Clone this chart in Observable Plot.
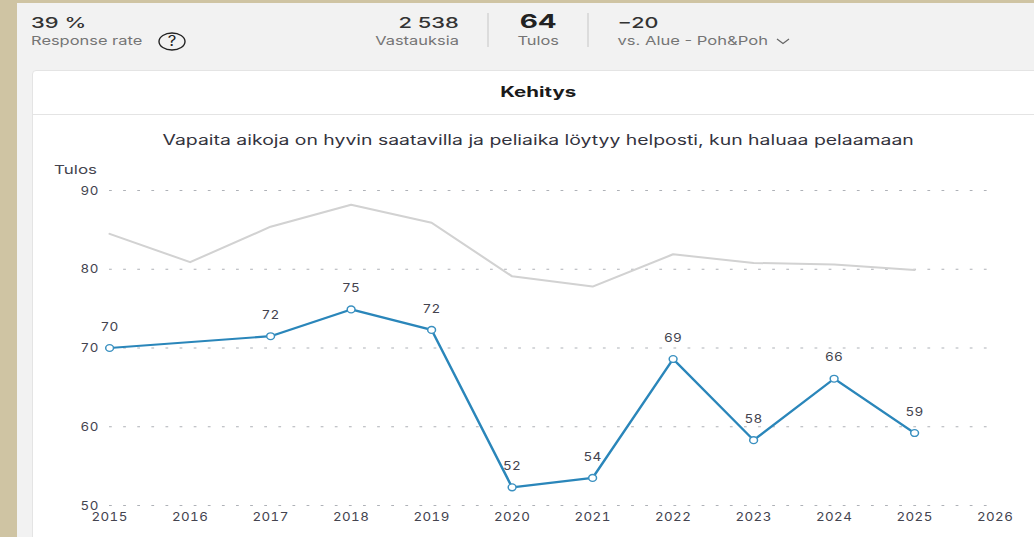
<!DOCTYPE html>
<html>
<head>
<meta charset="utf-8">
<script src="https://cdn.jsdelivr.net/npm/d3@7"></script>
<script src="https://cdn.jsdelivr.net/npm/@observablehq/plot@0.6"></script>
<style>
html,body{margin:0;padding:0;background:#cfc4a3;overflow:hidden;width:1034px;height:537px;font-family:Inter,sans-serif;}
#panel{position:absolute;left:17px;top:3px;right:0;bottom:0;background:#f2f2f2;}
#card{position:absolute;left:32px;top:70px;width:1010px;height:480px;background:#fff;border:1px solid #e4e4e4;border-radius:4px;box-sizing:border-box;}
#rule{position:absolute;left:33px;right:0;top:114px;height:1px;background:#e4e4e4;}
.sep{position:absolute;width:2px;top:13px;height:34px;background:#dcdcdc;}
#stage{position:absolute;left:0;top:0;width:899.13px;height:537px;transform:scaleX(1.15);transform-origin:0 0;}
.t{position:absolute;white-space:nowrap;line-height:1;}
#chart{position:absolute;left:0;top:155px;}
#chart svg{display:block;background:transparent;overflow:visible;}
#q{position:absolute;left:158px;top:32px;width:28px;height:19px;}
#chev{position:absolute;left:776px;top:38px;width:14px;height:7px;}
</style>
</head>
<body>
<div id="panel"></div>
<div id="card"></div>
<div id="rule"></div>
<div class="sep" style="left:487px"></div>
<div class="sep" style="left:587px"></div>
<svg id="q" viewBox="0 0 28 19"><ellipse cx="14" cy="9.5" rx="13" ry="8.5" fill="none" stroke="#222" stroke-width="1.4"/><text x="14" y="14.5" text-anchor="middle" font-family="Inter" font-size="14" fill="#222" transform="translate(14 0) scale(1.2 1) translate(-14 0)">?</text></svg>
<svg id="chev" viewBox="0 0 14 7"><path d="M1 1 L7 5.5 L13 1" fill="none" stroke="#666" stroke-width="1.2"/></svg>
<div id="stage"><div id="chart"></div></div>
<script>
const years = [2015, 2017, 2018, 2019, 2020, 2021, 2022, 2023, 2024, 2025];
const scores = [70, 71.5, 74.9, 72.3, 52.3, 53.5, 68.6, 58.3, 66.1, 59.2];
const labels = [70, 72, 75, 72, 52, 54, 69, 58, 66, 59];
const areaYears = [2015, 2016, 2017, 2018, 2019, 2020, 2021, 2022, 2023, 2024, 2025];
const areaScores = [84.5, 80.9, 85.4, 88.2, 85.9, 79.1, 77.8, 81.9, 80.8, 80.6, 79.9];
const yTicks = [50, 60, 70, 80, 90];
const xTicks = [2015, 2016, 2017, 2018, 2019, 2020, 2021, 2022, 2023, 2024, 2025, 2026];

const SX = 1.15;
const stage = document.getElementById("stage");
function put(x, y, text, size, color, weight, anchor, stretch) {
  const d = document.createElement("div");
  d.className = "t";
  d.textContent = text;
  d.style.left = (x / SX) + "px";
  d.style.top = y + "px";
  d.style.fontSize = size + "px";
  d.style.color = color;
  d.style.fontWeight = weight || 400;
  const ax = anchor === "end" ? "-100%" : anchor === "middle" ? "-50%" : "0";
  d.style.transformOrigin = anchor === "end" ? "100% 50%" : anchor === "middle" ? "50% 50%" : "0 50%";
  d.style.transform = "translate(" + ax + ",-50%) scaleX(" + (stretch || 1) + ")";
  stage.appendChild(d);
}
put(31.5, 22, "39 %", 15, "#333", 500, "start", 1.27);
put(31.5, 41, "Response rate", 12, "#757575", 400, "start", 1.19);
put(459, 22, "2 538", 15, "#333", 500, "end", 1.27);
put(459, 41, "Vastauksia", 12, "#757575", 400, "end", 1.19);
put(538, 21, "64", 19, "#222", 700, "middle", 1.28);
put(538, 41, "Tulos", 12, "#757575", 400, "middle", 1.19);
put(618, 22, "−20", 15, "#333", 500, "start", 1.25);
put(618, 41, "vs. Alue - Poh&Poh", 12, "#757575", 400, "start", 1.2);
put(538, 92, "Kehitys", 14, "#1a1a1a", 700, "middle", 1.27);
put(538.5, 139.5, "Vapaita aikoja on hyvin saatavilla ja peliaika löytyy helposti, kun haluaa pelaamaan", 14, "#33333d", 400, "middle", 1.205);
put(54, 170, "Tulos", 12, "#44444f", 400, "start", 1.23);

const main = years.map((y, i) => ({year: y, score: scores[i], label: labels[i]}));
const area = areaYears.map((y, i) => ({year: y, score: areaScores[i]}));

const plot = Plot.plot({
  width: 899.13,
  height: 382,
  marginTop: 35,
  marginBottom: 32,
  marginLeft: 94.8,
  marginRight: 34.3,
  style: {fontFamily: "Inter, sans-serif", fontSize: "11.6px", letterSpacing: "0.35px", color: "#44444f", background: "transparent"},
  x: {domain: [2015, 2026], label: null},
  y: {domain: [50, 90], label: null},
  marks: [
    Plot.ruleY(yTicks, {x1: 2015, x2: 2025.95, stroke: "#aeb1b7", strokeWidth: 1, strokeDasharray: "2.4 9.87"}),
    Plot.axisX({ticks: xTicks, tickFormat: "d", tickSize: 0, tickPadding: 7, fontSize: 11.6, fill: "#44444f"}),
    Plot.axisY({ticks: yTicks, tickSize: 0, tickPadding: 9.5, dy: 0.5, fontSize: 11.6, fill: "#44444f"}),
    Plot.line(area, {x: "year", y: "score", stroke: "#d2d2d2", strokeWidth: 2}),
    Plot.line(main, {x: "year", y: "score", stroke: "#2a86ba", strokeWidth: 2.2}),
    Plot.dot(main, {x: "year", y: "score", r: 3.4, fill: "#fff", stroke: "#3a90c0", strokeWidth: 1.3}),
    Plot.text(main, {x: "year", y: "score", text: "label", dy: -21, fontSize: 11.8, fill: "#44444f"})
  ]
});
document.getElementById("chart").appendChild(plot);
</script>
</body>
</html>
